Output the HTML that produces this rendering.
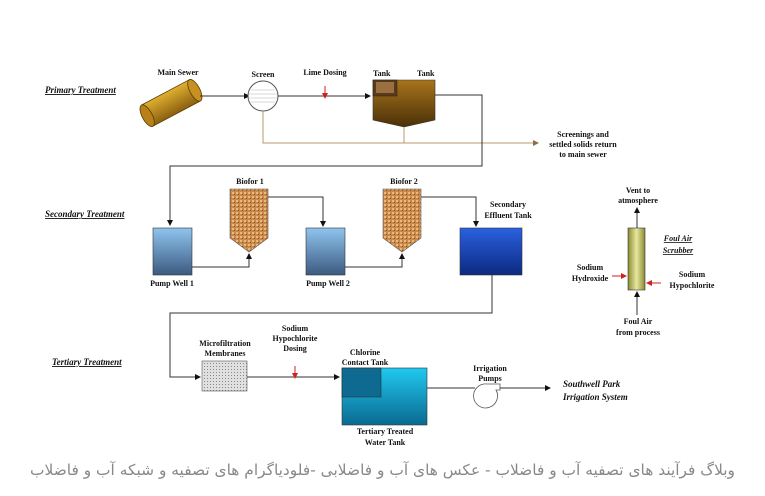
<!DOCTYPE html>
<html><head><meta charset="utf-8"><style>
html,body{margin:0;padding:0;background:#fff;}
svg{display:block;}
text{font-family:"Liberation Serif",serif;font-size:8px;font-weight:bold;fill:#111;}
.it{font-style:italic;text-decoration:underline;font-size:9px;}
</style></head><body>
<svg width="765" height="496" viewBox="0 0 765 496" xmlns="http://www.w3.org/2000/svg">
<defs>
<marker id="a" markerWidth="6" markerHeight="6" refX="5" refY="3" orient="auto" markerUnits="userSpaceOnUse"><path d="M0,0 L6,3 L0,6z" fill="#111"/></marker>
<marker id="at" markerWidth="6" markerHeight="6" refX="5" refY="3" orient="auto" markerUnits="userSpaceOnUse"><path d="M0,0 L6,3 L0,6z" fill="#8a7040"/></marker>
<marker id="ar" markerWidth="6" markerHeight="6" refX="5" refY="3" orient="auto" markerUnits="userSpaceOnUse"><path d="M0,0 L6,3 L0,6z" fill="#d02020"/></marker>
<linearGradient id="pw" x1="0" y1="0" x2="0" y2="1"><stop offset="0" stop-color="#8fc4ee"/><stop offset="1" stop-color="#3c5a80"/></linearGradient>
<linearGradient id="se" x1="0" y1="0" x2="0" y2="1"><stop offset="0" stop-color="#2a60e0"/><stop offset="1" stop-color="#0c2a80"/></linearGradient>
<linearGradient id="ct" x1="0" y1="0" x2="0" y2="1"><stop offset="0" stop-color="#20c8f0"/><stop offset="1" stop-color="#0a6a90"/></linearGradient>
<linearGradient id="tk" x1="0" y1="0" x2="0" y2="1"><stop offset="0" stop-color="#a8741c"/><stop offset="1" stop-color="#4a3008"/></linearGradient>
<linearGradient id="cy" x1="0" y1="0" x2="0" y2="1"><stop offset="0" stop-color="#e0b030"/><stop offset="1" stop-color="#8a6010"/></linearGradient>
<linearGradient id="sc" x1="0" y1="0" x2="1" y2="0"><stop offset="0" stop-color="#8a8a30"/><stop offset=".5" stop-color="#e8e8a0"/><stop offset="1" stop-color="#8a8a30"/></linearGradient>
<pattern id="bf" width="4" height="4" patternUnits="userSpaceOnUse"><rect width="4" height="4" fill="#c8884a"/><rect width="2" height="2" fill="#e8b880"/><rect x="2" y="2" width="1" height="1" fill="#8a5020"/></pattern>
<pattern id="mf" width="3" height="3" patternUnits="userSpaceOnUse"><rect width="3" height="3" fill="#e0e0e0"/><rect width="1" height="1" fill="#888"/></pattern>
</defs>

<!-- Primary -->
<text x="45" y="93" class="it">Primary Treatment</text>
<text x="178" y="75" text-anchor="middle">Main Sewer</text>
<g transform="translate(171,103) rotate(-28)">
<rect x="-27" y="-12" width="54" height="24" fill="url(#cy)" stroke="#5a3a00" stroke-width=".8"/>
<ellipse cx="27" cy="0" rx="5" ry="12" fill="#c89020" stroke="#5a3a00" stroke-width=".8"/>
<ellipse cx="-27" cy="0" rx="5" ry="12" fill="#b88018" stroke="#5a3a00" stroke-width=".8"/>
</g>
<line x1="200" y1="96" x2="249" y2="96" stroke="#333" marker-end="url(#a)"/>
<text x="263" y="77" text-anchor="middle">Screen</text>
<circle cx="263" cy="96" r="15" fill="#fff" stroke="#555"/>
<g stroke="#ccc" stroke-width=".8"><line x1="251" y1="90" x2="275" y2="90"/><line x1="249" y1="94" x2="277" y2="94"/><line x1="249" y1="98" x2="277" y2="98"/><line x1="251" y1="102" x2="275" y2="102"/></g>
<line x1="278" y1="96" x2="370" y2="96" stroke="#333" marker-end="url(#a)"/>
<text x="325" y="75" text-anchor="middle">Lime Dosing</text>
<line x1="325" y1="86" x2="325" y2="98" stroke="#d02020" marker-end="url(#ar)"/>
<text x="373" y="76">Tank</text><text x="417" y="76">Tank</text>
<path d="M373,80 H435 V120 L404,127 L373,120z" fill="url(#tk)" stroke="#333" stroke-width=".6"/>
<rect x="373" y="80" width="24" height="16" fill="#5a3a18" stroke="#222" stroke-width=".5"/>
<rect x="376" y="82" width="18" height="11" fill="#9a7040"/>
<polyline points="263,111 263,143 538,143" fill="none" stroke="#b89870" marker-end="url(#at)"/>
<line x1="404" y1="127" x2="404" y2="143" stroke="#b89870"/>
<text x="583" y="137" text-anchor="middle" font-weight="normal">Screenings and</text>
<text x="583" y="147" text-anchor="middle" font-weight="normal">settled solids return</text>
<text x="583" y="157" text-anchor="middle" font-weight="normal">to main sewer</text>
<polyline points="435,95 482,95 482,166 170,166 170,225" fill="none" stroke="#333" marker-end="url(#a)"/>

<!-- Secondary -->
<text x="45" y="217" class="it">Secondary Treatment</text>
<rect x="153" y="228" width="39" height="47" fill="url(#pw)" stroke="#333" stroke-width=".6"/>
<text x="172" y="286" text-anchor="middle">Pump Well 1</text>
<text x="250" y="184" text-anchor="middle">Biofor 1</text>
<path d="M230,189 H268 V238 L249,252 L230,238z" fill="url(#bf)" stroke="#555" stroke-width=".6"/>
<polyline points="192,267 249,267 249,254" fill="none" stroke="#333" marker-end="url(#a)"/>
<polyline points="268,197 323,197 323,226" fill="none" stroke="#333" marker-end="url(#a)"/>
<rect x="306" y="228" width="39" height="47" fill="url(#pw)" stroke="#333" stroke-width=".6"/>
<text x="328" y="286" text-anchor="middle">Pump Well 2</text>
<text x="404" y="184" text-anchor="middle">Biofor 2</text>
<path d="M383,189 H421 V238 L402,252 L383,238z" fill="url(#bf)" stroke="#555" stroke-width=".6"/>
<polyline points="345,267 402,267 402,254" fill="none" stroke="#333" marker-end="url(#a)"/>
<polyline points="421,197 476,197 476,226" fill="none" stroke="#333" marker-end="url(#a)"/>
<text x="508" y="207" text-anchor="middle">Secondary</text>
<text x="508" y="218" text-anchor="middle">Effluent Tank</text>
<rect x="460" y="228" width="62" height="47" fill="url(#se)" stroke="#333" stroke-width=".6"/>
<polyline points="492,275 492,313 170,313 170,377 200,377" fill="none" stroke="#333" marker-end="url(#a)"/>

<!-- Scrubber -->
<text x="638" y="193" text-anchor="middle">Vent to</text>
<text x="638" y="203" text-anchor="middle">atmosphere</text>
<line x1="637" y1="228" x2="637" y2="208" stroke="#333" marker-end="url(#a)"/>
<rect x="628" y="228" width="17" height="62" fill="url(#sc)" stroke="#333" stroke-width=".6"/>
<text x="678" y="241" text-anchor="middle" class="it" style="font-size:8px">Foul Air</text>
<text x="678" y="253" text-anchor="middle" class="it" style="font-size:8px">Scrubber</text>
<text x="590" y="270" text-anchor="middle">Sodium</text>
<text x="590" y="281" text-anchor="middle">Hydroxide</text>
<line x1="612" y1="276" x2="626" y2="276" stroke="#d02020" marker-end="url(#ar)"/>
<text x="692" y="277" text-anchor="middle">Sodium</text>
<text x="692" y="288" text-anchor="middle">Hypochlorite</text>
<line x1="661" y1="283" x2="647" y2="283" stroke="#d02020" marker-end="url(#ar)"/>
<line x1="637" y1="315" x2="637" y2="292" stroke="#333" marker-end="url(#a)"/>
<text x="638" y="324" text-anchor="middle">Foul Air</text>
<text x="638" y="335" text-anchor="middle">from process</text>

<!-- Tertiary -->
<text x="52" y="365" class="it">Tertiary Treatment</text>
<text x="225" y="346" text-anchor="middle">Microfiltration</text>
<text x="225" y="356" text-anchor="middle">Membranes</text>
<rect x="202" y="361" width="45" height="30" fill="url(#mf)" stroke="#555" stroke-width=".6"/>
<line x1="247" y1="377" x2="339" y2="377" stroke="#333" marker-end="url(#a)"/>
<text x="295" y="331" text-anchor="middle">Sodium</text>
<text x="295" y="341" text-anchor="middle">Hypochlorite</text>
<text x="295" y="351" text-anchor="middle">Dosing</text>
<line x1="295" y1="366" x2="295" y2="378" stroke="#d02020" marker-end="url(#ar)"/>
<text x="365" y="355" text-anchor="middle">Chlorine</text>
<text x="365" y="365" text-anchor="middle">Contact Tank</text>
<rect x="342" y="368" width="85" height="57" fill="url(#ct)" stroke="#333" stroke-width=".6"/>
<rect x="342" y="368" width="39" height="29" fill="#0e6a90" stroke="#222" stroke-width=".5"/>
<text x="385" y="434" text-anchor="middle">Tertiary Treated</text>
<text x="385" y="445" text-anchor="middle">Water Tank</text>
<line x1="427" y1="388" x2="475" y2="388" stroke="#333"/>
<text x="490" y="371" text-anchor="middle">Irrigation</text>
<text x="490" y="381" text-anchor="middle">Pumps</text>
<path d="M487,384 H500 V390 H496 A12,12 0 1 1 487,384z" fill="#fff" stroke="#555" stroke-width=".8"/>
<line x1="500" y1="388" x2="550" y2="388" stroke="#333" marker-end="url(#a)"/>
<text x="563" y="387" class="it" style="text-decoration:none;font-size:9px">Southwell Park</text>
<text x="563" y="400" class="it" style="text-decoration:none;font-size:9px">Irrigation System</text>

<!-- Footer -->
<text x="735" y="475" text-anchor="start" direction="rtl" textLength="705" lengthAdjust="spacingAndGlyphs" style="font-family:'DejaVu Sans',sans-serif;font-size:15px;font-weight:normal;fill:#888">وبلاگ فرآیند های تصفیه آب و فاضلاب - عکس های آب و فاضلابی -فلودیاگرام های تصفیه و شبکه آب و فاضلاب</text>
</svg>
</body></html>
